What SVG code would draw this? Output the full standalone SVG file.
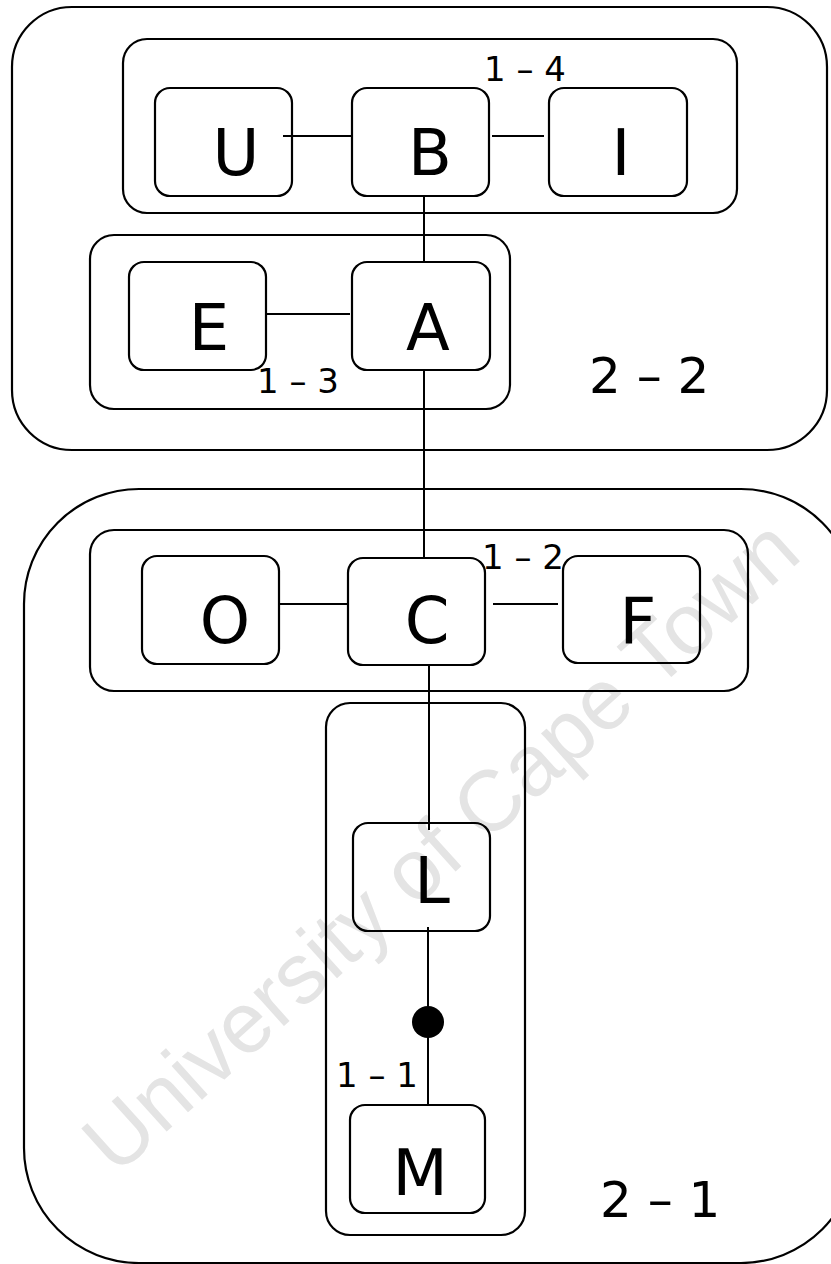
<svg xmlns="http://www.w3.org/2000/svg" width="831" height="1264" viewBox="0 0 831 1264">
<style>
.grp{fill:none;stroke:#000;stroke-width:2.2}
.node rect{fill:none;stroke:#000;stroke-width:2.2}
.node text{font-family:"DejaVu Sans",Verdana,sans-serif;font-size:64px;fill:#000;text-anchor:middle}
.lbl{font-family:"DejaVu Sans",Verdana,sans-serif;font-size:34px;fill:#000}
.big{font-family:"DejaVu Sans",Verdana,sans-serif;font-size:50px;fill:#000}
#connectors line{stroke:#000;stroke-width:2}
.wm{font-family:"Liberation Sans",Arial,sans-serif;font-size:86px;fill:#e4e4e4;text-anchor:middle}
</style>
<rect width="831" height="1264" fill="#fff"/>
<text class="wm" transform="translate(440 845) rotate(-42)" dominant-baseline="central">University of Cape Town</text>

<g id="cluster-2-2">
<rect class="grp" x="12" y="7" width="815" height="443" rx="60"/>
<text class="big" x="589" y="393">2 – 2</text>
</g>
<g id="cluster-2-1">
<rect class="grp" x="24" y="489" width="832" height="774" rx="115"/>
<text class="big" x="600" y="1217">2 – 1</text>
</g>
<g id="group-1-4">
<rect class="grp" x="123" y="39" width="614" height="174" rx="24"/>
<text class="lbl" x="484" y="81">1 – 4</text>
</g>
<g id="group-1-3">
<rect class="grp" x="90" y="235" width="420" height="174" rx="24"/>
<text class="lbl" x="257" y="393">1 – 3</text>
</g>
<g id="group-1-2">
<rect class="grp" x="90" y="530" width="658" height="161" rx="24"/>
<text class="lbl" x="482" y="569">1 – 2</text>
</g>
<g id="group-1-1">
<rect class="grp" x="326" y="703" width="199" height="532" rx="24"/>
<text class="lbl" x="336" y="1087">1 – 1</text>
</g>

<g id="connectors">
<line x1="283" y1="136" x2="352" y2="136"/>
<line x1="492" y1="136" x2="544" y2="136"/>
<line x1="424" y1="196" x2="424" y2="262"/>
<line x1="266" y1="314" x2="350" y2="314"/>
<line x1="424" y1="370" x2="424" y2="558"/>
<line x1="279" y1="604" x2="348" y2="604"/>
<line x1="493" y1="604" x2="558" y2="604"/>
<line x1="429" y1="665" x2="429" y2="830"/>
<line x1="428" y1="927" x2="428" y2="1105"/>
<circle cx="428" cy="1022" r="16" fill="#000"/>
</g>

<g id="node-U" class="node"><rect x="155" y="88" width="137" height="108" rx="15"/><text x="236" y="175">U</text></g>
<g id="node-B" class="node"><rect x="352" y="88" width="137" height="108" rx="15"/><text x="430" y="175">B</text></g>
<g id="node-I" class="node"><rect x="549" y="88" width="138" height="108" rx="15"/><text x="621" y="175">I</text></g>
<g id="node-E" class="node"><rect x="129" y="262" width="137" height="108" rx="15"/><text x="209" y="350">E</text></g>
<g id="node-A" class="node"><rect x="352" y="262" width="138" height="108" rx="15"/><text x="428" y="350">A</text></g>
<g id="node-O" class="node"><rect x="142" y="556" width="137" height="108" rx="15"/><text x="225" y="643">O</text></g>
<g id="node-C" class="node"><rect x="348" y="558" width="137" height="107" rx="15"/><text x="427" y="643">C</text></g>
<g id="node-F" class="node"><rect x="563" y="556" width="137" height="107" rx="15"/><text x="638" y="643">F</text></g>
<g id="node-L" class="node"><rect x="353" y="823" width="137" height="108" rx="15"/><text x="432" y="903">L</text></g>
<g id="node-M" class="node"><rect x="350" y="1105" width="135" height="108" rx="15"/><text x="420" y="1195">M</text></g>
</svg>
